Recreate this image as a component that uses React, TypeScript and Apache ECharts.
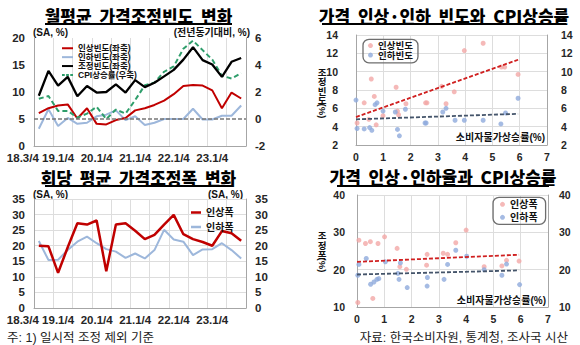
import React, { useEffect, useRef } from 'react';
import * as echarts from 'echarts';

// ---------- data ----------
const quarters = ['18.3/4','18.4/4','19.1/4','19.2/4','19.3/4','19.4/4','20.1/4','20.2/4','20.3/4','20.4/4','21.1/4','21.2/4','21.3/4','21.4/4','22.1/4','22.2/4','22.3/4','22.4/4','23.1/4','23.2/4','23.3/4','23.4/4'];
const labelIdx = [0, 2, 6, 10, 14, 18];

const riseFreq = [6.1,7.0,7.5,7.7,5.1,7.0,4.1,4.0,4.8,5.2,6.6,7.0,7.6,8.4,9.6,11.1,11.3,11.2,10.3,7.0,9.9,8.8];
const fallFreq = [3.2,6.8,3.7,5.2,4.1,4.3,5.5,5.8,6.6,4.8,5.5,3.9,4.3,5.0,5.0,5.0,6.9,4.9,4.9,5.6,5.6,7.5];
const adjFreq = [9.3,13.9,11.2,12.8,9.2,11.1,9.9,10.0,11.4,9.9,12.2,10.9,11.7,12.9,14.1,16.0,18.3,15.9,15.1,12.8,15.6,16.3];
const cpiRate = [1.5,1.7,0.6,0.6,0.1,0.4,0.9,0.0,0.7,0.4,1.4,2.5,2.7,3.5,3.9,5.2,5.8,5.1,4.4,3.2,3.0,3.4];

const riseSize = [20.0,19.8,11.3,19.5,27.2,26.8,28.1,11.8,26.8,27.2,24.8,22.1,23.5,26.8,29.9,23.7,22.1,21.2,20.0,24.7,24.0,21.6];
const fallSize = [21.5,15.4,15.5,18.6,21.3,22.9,20.8,18.9,18.1,16.1,17.5,15.9,18.6,25.1,22.0,21.3,17.0,18.8,18.9,20.8,18.6,15.9];

// scatter: price-rise / fall frequency vs CPI
const riseFreqCpi = [0.04,0.3,0.47,0.56,0.67,0.74,0.99,1.47,1.52,1.56,1.83,2.55,2.6,3.14,3.3,3.6,3.97,4.66,5.33,5.45,5.94];
const riseFreqVal = [4.4,6.6,4.8,9.2,7.3,4.2,5.2,8.3,5.7,5.3,6.5,6.6,6.6,8.4,6.5,7.8,12.3,13.1,10.5,10.5,9.7];
const fallFreqCpi = [0.0,0.04,0.3,0.5,0.58,0.7,0.77,0.99,1.44,1.52,1.59,1.81,2.53,2.57,3.18,3.3,3.63,3.97,4.66,5.31,5.48,5.94];
const fallFreqVal = [6.9,3.8,3.75,3.9,3.6,6.4,6.6,5.7,5.6,3.7,3.0,5.9,4.4,4.4,5.6,6.0,4.7,4.7,4.7,4.3,5.5,7.1];
const riseFreqTrend = [[0, 5.05], [5.94, 11.3]];
const fallFreqTrend = [[0, 4.8], [5.94, 5.4]];

// scatter: price-rise / fall size vs CPI
const riseSizeCpi = [0.03,0.07,0.31,0.49,0.58,0.77,1.01,1.47,1.57,1.81,2.55,2.57,3.16,3.32,3.62,4.0,4.66,5.31,5.48,5.94];
const riseSizeVal = [11.2,27.9,27.0,27.5,12.3,27.0,28.8,25.7,20.8,20.1,21.2,24.1,24.4,24.1,27.2,30.6,20.8,21.0,22.5,22.3];
const fallSizeCpi = [0.03,0.07,0.34,0.5,0.62,0.73,0.8,1.04,1.5,1.54,1.59,1.84,2.57,2.58,3.19,3.32,3.62,4.02,4.66,5.31,5.48,5.96];
const fallSizeVal = [18.5,21.4,23.0,16.1,16.7,17.4,17.6,22.1,19.0,17.4,21.8,15.2,15.6,17.9,17.4,21.4,25.2,23.6,20.0,18.5,21.5,16.0];
const riseSizeTrend = [[0, 22.1], [5.94, 24.0]];
const fallSizeTrend = [[0, 18.7], [5.94, 19.8]];

// ---------- styles ----------
const NFONT = "'Liberation Sans', 'Noto Sans CJK KR', sans-serif";
const KFONT = "'Noto Sans CJK KR', sans-serif";
const RED = '#C00000';
const LBLUE = '#9DB7DB';
const GREEN = '#2E9E6B';
const PINK = '#F3A7A6';
const SBLUE = '#8FAADC';
const GRID = '#DDDDDD';
const AXIS = '#A6A6A6';
const DASH_ICON = 'path://M0,0h4v2h-4zM6,0h4v2h-4zM12,0h4v2h-4z';

const pairs = (xs: number[], ys: number[]) => xs.map((x, i) => [x, ys[i]]);

const numLabel = (size: number, margin: number) => ({
  fontSize: size, fontWeight: 'bold' as const, color: '#262626', fontFamily: NFONT, margin,
});

function buildOption() {
  const catAxis = (gridIndex: number) => ({
    type: 'category', gridIndex, data: quarters, boundaryGap: true,
    axisLine: { show: true, onZero: false, lineStyle: { color: AXIS } },
    axisTick: { show: false },
    axisLabel: {
      ...numLabel(11.5, 6),
      interval: (i: number) => labelIdx.includes(i),
      alignMinLabel: 'right',
    },
    splitLine: { show: true, interval: 1, lineStyle: { color: GRID, width: 1 } },
  });
  const valY = (gridIndex: number, min: number, max: number, interval: number, pos: 'left' | 'right', size: number, margin: number, split: boolean) => ({
    type: 'value', gridIndex, min, max, interval, position: pos,
    axisLine: { show: true, lineStyle: { color: AXIS } },
    axisTick: { show: false },
    axisLabel: numLabel(size, margin),
    splitLine: { show: split, lineStyle: { color: GRID, width: 1 } },
  });
  const valX = (gridIndex: number) => ({
    type: 'value', gridIndex, min: 0, max: 7, interval: 1,
    axisLine: { show: true, onZero: false, lineStyle: { color: AXIS } },
    axisTick: { show: false },
    axisLabel: numLabel(10.5, 7),
    splitLine: { show: true, lineStyle: { color: GRID, width: 1 } },
  });

  const legendText = (size: number, lh: number) => ({
    fontSize: size, lineHeight: lh, fontWeight: 'bold' as const, color: '#111', fontFamily: NFONT,
  });

  const txt = (text: string, x: number, y: number, size: number, opts: any = {}) => ({
    type: 'text', x, y, silent: true,
    style: {
      text, fontSize: size, fontFamily: opts.family || NFONT, fontWeight: opts.weight || 'bold',
      fill: opts.fill || '#111', align: opts.align || 'left', verticalAlign: 'middle',
      lineHeight: opts.lh,
    },
    rotation: opts.rotation || 0,
  });
  const uline = (x1: number, x2: number, y: number) => ({
    type: 'line', silent: true, shape: { x1, y1: y, x2, y2: y }, style: { stroke: '#000', lineWidth: 2 },
  });
  const title = (text: string, x: number, y: number) =>
    txt(text, x, y, 17, { family: KFONT, align: 'center', fill: '#000', weight: 900 });

  return {
    animation: false,
    backgroundColor: '#ffffff',
    grid: [
      { left: 34, right: 334, top: 38, bottom: 199, outerBoundsMode: 'none' },
      { left: 34, right: 334, top: 199, bottom: 37, outerBoundsMode: 'none' },
      { left: 356, right: 33, top: 35, bottom: 200, outerBoundsMode: 'none' },
      { left: 357, right: 32, top: 195, bottom: 38, outerBoundsMode: 'none' },
    ],
    xAxis: [catAxis(0), catAxis(1), valX(2), valX(3)],
    yAxis: [
      valY(0, 0, 20, 5, 'left', 11.5, 9, false),
      valY(0, -2, 6, 2, 'right', 11.5, 9, false),
      valY(1, 0, 35, 5, 'left', 11.5, 9, true),
      valY(1, 0, 35, 5, 'right', 11.5, 9, false),
      valY(2, 2, 14, 2, 'left', 10.5, 18, true),
      valY(2, 2, 14, 2, 'right', 10.5, 14, false),
      valY(3, 10, 40, 10, 'left', 10.5, 12, true),
      valY(3, 10, 40, 10, 'right', 10.5, 11, false),
    ],
    legend: [
      {
        left: 57, top: 38.8, orient: 'vertical', itemGap: 0, itemWidth: 11, itemHeight: 2,
        symbolKeepAspect: false,
        textStyle: legendText(8.5, 8.9), selectedMode: false,
        data: [
          { name: '인상빈도(좌축)', icon: 'rect' },
          { name: '인하빈도(좌축)', icon: 'rect' },
          { name: '조정빈도(좌축)', icon: 'rect' },
          { name: 'CPI상승률(우축)', icon: DASH_ICON },
        ],
      },
      {
        left: 186, top: 202.5, orient: 'vertical', itemGap: 4.5, itemWidth: 10, itemHeight: 2.5,
        symbolKeepAspect: false,
        textStyle: legendText(10, 10), selectedMode: false,
        data: [{ name: '인상폭', icon: 'rect' }, { name: '인하폭', icon: 'rect' }],
      },
      {
        left: 363, top: 39.3, orient: 'vertical', itemGap: 0, itemWidth: 5, itemHeight: 5, icon: 'circle',
        padding: [1.5, 5, 3, 5], borderColor: '#6E6E6E', borderWidth: 1.3, borderRadius: 6,
        textStyle: legendText(9.5, 9.5), selectedMode: false,
        data: ['인상빈도', '인하빈도'],
      },
      {
        left: 493, top: 197.3, orient: 'vertical', itemGap: 3, itemWidth: 5, itemHeight: 5, icon: 'circle',
        padding: [2, 8, 2, 7], borderColor: '#6E6E6E', borderWidth: 1.3, borderRadius: 6,
        textStyle: legendText(10, 10), selectedMode: false,
        formatter: (n: string) => n.replace('(산점)', ''),
        data: ['인상폭(산점)', '인하폭(산점)'],
      },
    ],
    series: [
      // top-left
      { name: '인상빈도(좌축)', type: 'line', xAxisIndex: 0, yAxisIndex: 0, data: riseFreq, symbol: 'none',
        lineStyle: { color: RED, width: 2 }, itemStyle: { color: RED }, z: 3 },
      { name: '인하빈도(좌축)', type: 'line', xAxisIndex: 0, yAxisIndex: 0, data: fallFreq, symbol: 'none',
        lineStyle: { color: LBLUE, width: 2 }, itemStyle: { color: LBLUE }, z: 2 },
      { name: '조정빈도(좌축)', type: 'line', xAxisIndex: 0, yAxisIndex: 0, data: adjFreq, symbol: 'none',
        lineStyle: { color: '#000', width: 2.3 }, itemStyle: { color: '#000' }, z: 4 },
      { name: 'CPI상승률(우축)', type: 'line', xAxisIndex: 0, yAxisIndex: 1, data: cpiRate, symbol: 'none',
        lineStyle: { color: GREEN, width: 2, type: [5, 3] }, itemStyle: { color: GREEN }, z: 3,
        markLine: { silent: true, symbol: 'none', label: { show: false },
          lineStyle: { type: [4, 2], color: '#777', width: 1.5 }, data: [{ yAxis: 0 }] } },
      // bottom-left
      { name: '인상폭', type: 'line', xAxisIndex: 1, yAxisIndex: 2, data: riseSize, symbol: 'none',
        lineStyle: { color: RED, width: 2.5 }, itemStyle: { color: RED }, z: 3 },
      { name: '인하폭', type: 'line', xAxisIndex: 1, yAxisIndex: 2, data: fallSize, symbol: 'none',
        lineStyle: { color: LBLUE, width: 2 }, itemStyle: { color: LBLUE }, z: 2 },
      // top-right
      { name: '인상빈도', type: 'scatter', xAxisIndex: 2, yAxisIndex: 4, data: pairs(riseFreqCpi, riseFreqVal),
        symbolSize: 5, itemStyle: { color: PINK } },
      { name: '인하빈도', type: 'scatter', xAxisIndex: 2, yAxisIndex: 4, data: pairs(fallFreqCpi, fallFreqVal),
        symbolSize: 5, itemStyle: { color: SBLUE } },
      { name: 'trend1', type: 'line', xAxisIndex: 2, yAxisIndex: 4, data: riseFreqTrend, symbol: 'none', z: 4,
        lineStyle: { color: '#D02020', width: 1.8, type: [4, 2] } },
      { name: 'trend2', type: 'line', xAxisIndex: 2, yAxisIndex: 4, data: fallFreqTrend, symbol: 'none', z: 4,
        lineStyle: { color: '#44546A', width: 1.8, type: [4, 2] } },
      // bottom-right
      { name: '인상폭(산점)', type: 'scatter', xAxisIndex: 3, yAxisIndex: 6, data: pairs(riseSizeCpi, riseSizeVal),
        symbolSize: 5, itemStyle: { color: PINK } },
      { name: '인하폭(산점)', type: 'scatter', xAxisIndex: 3, yAxisIndex: 6, data: pairs(fallSizeCpi, fallSizeVal),
        symbolSize: 5, itemStyle: { color: SBLUE } },
      { name: 'trend3', type: 'line', xAxisIndex: 3, yAxisIndex: 6, data: riseSizeTrend, symbol: 'none', z: 4,
        lineStyle: { color: '#D02020', width: 1.8, type: [4, 2] } },
      { name: 'trend4', type: 'line', xAxisIndex: 3, yAxisIndex: 6, data: fallSizeTrend, symbol: 'none', z: 4,
        lineStyle: { color: '#44546A', width: 1.8, type: [4, 2] } },
    ],
    graphic: [
      title('월평균  가격조정빈도  변화', 138.5, 15),
      uline(45, 232, 24),
      title('가격  인상·인하  빈도와  CPI상승률', 444, 15),
      uline(322, 566, 24),
      title('회당  평균  가격조정폭  변화', 138.5, 177),
      uline(45, 232, 186),
      title('가격  인상·인하율과  CPI상승률', 443, 176.5),
      uline(337, 549, 186),

      txt('(SA, %)', 33, 32, 10),
      txt('(전년동기대비, %)', 250, 32, 10, { align: 'right' }),
      txt('(SA, %)', 33, 194, 10),
      txt('(SA, %)', 243, 194, 10, { align: 'right' }),

      txt('소비자물가상승률(%)', 545, 137, 10, { align: 'right' }),
      txt('소비자물가상승률(%)', 546, 300, 10, { align: 'right' }),

      txt('조\n정\n빈\n도', 322, 86.5, 9.5, { align: 'center', lh: 9.6 }),
      txt('(%)', 322, 111, 9.5, { align: 'center', rotation: -Math.PI / 2 }),
      txt('조\n정\n폭', 322, 245.5, 9.5, { align: 'center', lh: 9.6 }),
      txt('(%)', 322, 265, 9.5, { align: 'center', rotation: -Math.PI / 2 }),

      txt('주: 1) 일시적 조정 제외 기준', 7, 338, 12.5, { weight: 'normal', fill: '#222' }),
      txt('자료: 한국소비자원, 통계청, 조사국 시산', 568, 338, 12.5, { weight: 'normal', fill: '#222', align: 'right' }),
    ],
  };
}

export default function App() {
  const ref = useRef<HTMLDivElement>(null);
  useEffect(() => {
    if (!ref.current) return;
    const chart = echarts.init(ref.current, null, { renderer: 'svg' });
    chart.setOption(buildOption() as any);
    return () => chart.dispose();
  }, []);
  return <div ref={ref} style={{ position: 'absolute', left: 0, top: 0, width: 580, height: 345 }} />;
}
